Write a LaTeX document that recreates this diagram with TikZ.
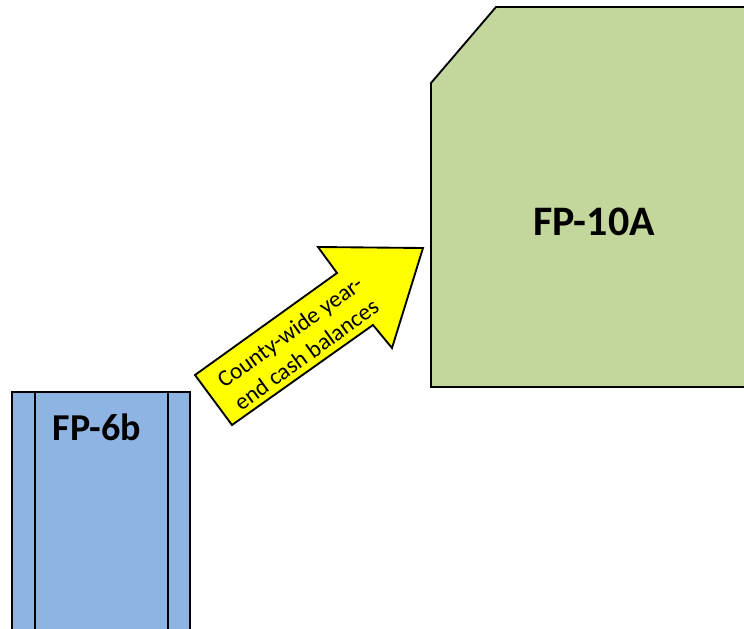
\documentclass[tikz,border=0pt]{standalone}
\usepackage{fontspec}
\setmainfont{Carlito}
\usepackage{tikz}
\usetikzlibrary{positioning,calc}
\definecolor{cgreen}{HTML}{C3D69B}
\definecolor{cblue}{HTML}{8EB4E3}
\definecolor{cyellow}{HTML}{FFFF00}
\definecolor{ink}{HTML}{000000}

\begin{document}
\begin{tikzpicture}[x=0.75pt,y=-0.75pt,line width=1.4pt,line join=miter]
  \useasboundingbox (0,0) rectangle (744,629);
  % target box
  \fill[cgreen,draw=ink] (431,83) -- (496,7) -- (760,7) -- (760,387) -- (431,387) -- cycle;
  \node[font=\fontsize{31.5}{36}\selectfont\bfseries] (fp10a) at (594,222) {FP-10A};
  % source box
  \fill[cblue,draw=ink] (12,392) rectangle (190,640);
  \draw[ink] (35,392) -- (35,640) (168,392) -- (168,640);
  \node[font=\fontsize{28.5}{32}\selectfont\bfseries] (fp6b) at (97,427) {FP-6b};
  % block arrow
  \fill[cyellow,draw=ink] (195,375) -- (337,273) -- (318,247) -- (423,248) -- (392,348) -- (373,325) -- (232,425) -- cycle;
  \node[font=\fontsize{17.5}{21}\selectfont,rotate=35.9,align=center,inner sep=0pt] (flow) at (298,343) {County-wide year-\\end cash balances};
\end{tikzpicture}
\end{document}
